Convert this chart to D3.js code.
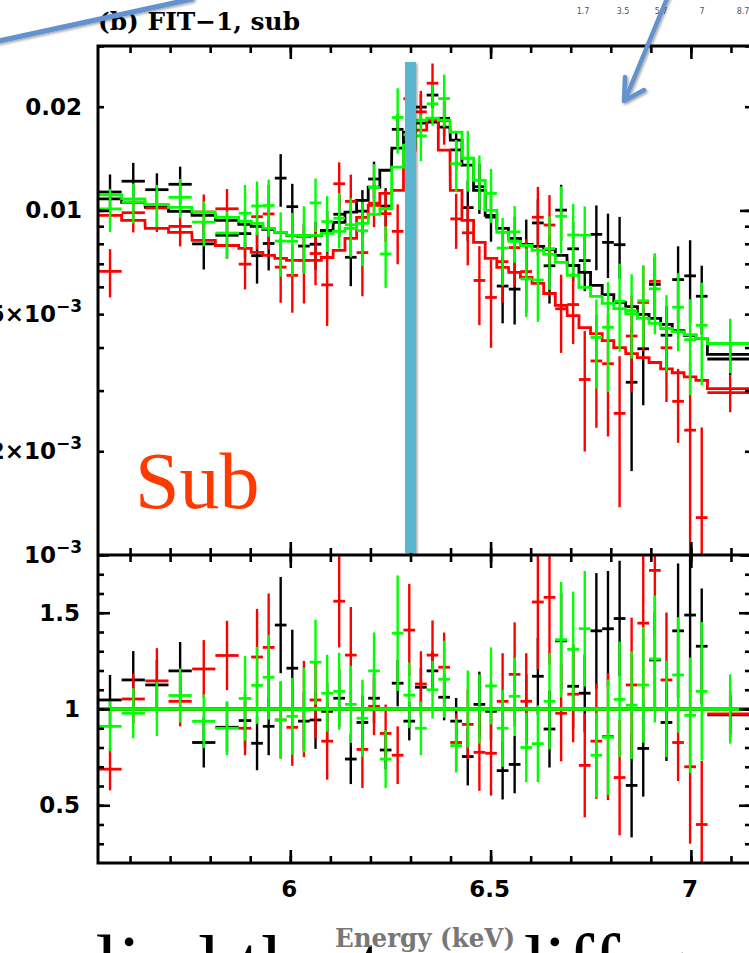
<!DOCTYPE html>
<html>
<head>
<meta charset="utf-8">
<script src="https://cdn.jsdelivr.net/npm/d3@7"></script>
<style>
html, body { margin: 0; padding: 0; background: #fff; }
svg { display: block; }
</style>
</head>
<body>
<div id="viz"></div>
<script>
// shared energy bins (keV): centres and half widths
const binE = [5.550, 5.608, 5.667, 5.725, 5.784, 5.842, 5.887,
  5.917, 5.946, 5.976, 6.005, 6.034, 6.063, 6.092, 6.122, 6.151, 6.180,
  6.209, 6.238, 6.268, 6.297, 6.326, 6.355, 6.384, 6.414, 6.443, 6.472,
  6.501, 6.530, 6.560, 6.589, 6.618, 6.647, 6.676, 6.706, 6.735, 6.764,
  6.793, 6.822, 6.852, 6.881, 6.910, 6.939, 6.968, 6.998, 7.027, 7.098];
const binW = [0.029, 0.029, 0.029, 0.029, 0.029, 0.029, 0.0157,
  0.0146, 0.0146, 0.0146, 0.0146, 0.0146, 0.0146, 0.0146, 0.0146, 0.0146, 0.0146,
  0.0146, 0.0146, 0.0146, 0.0146, 0.0146, 0.0146, 0.0146, 0.0146, 0.0146, 0.0146,
  0.0146, 0.0146, 0.0146, 0.0146, 0.0146, 0.0146, 0.0146, 0.0146, 0.0146, 0.0146,
  0.0146, 0.0146, 0.0146, 0.0146, 0.0146, 0.0146, 0.0146, 0.0146, 0.0146, 0.057];

// folded model (counts/s/keV), one step per bin
const modelBlack = [0.0108, 0.01056, 0.01021, 0.00994, 0.00968, 0.00936, 0.00911,
  0.00899, 0.00881, 0.00864, 0.00846, 0.00841, 0.00846, 0.00875, 0.00923, 0.00988, 0.0107, 0.01168, 0.01308,
  0.01516, 0.01687, 0.01792, 0.01804, 0.01744, 0.01599, 0.01353, 0.01144, 0.00968, 0.00887, 0.0083, 0.00797,
  0.00786, 0.00771, 0.0074, 0.00692, 0.00661, 0.00606, 0.0057, 0.00541, 0.00526, 0.00499, 0.00486, 0.00467,
  0.00448, 0.00434, 0.00425, 0.00382];
const modelRed = [0.00968, 0.00936, 0.00887, 0.00864, 0.00819, 0.00791, 0.00776,
  0.00755, 0.0074, 0.00726, 0.00716, 0.00716, 0.00716, 0.0073, 0.00766, 0.0083, 0.00955, 0.01035, 0.01121,
  0.01144, 0.01496, 0.0171, 0.01828, 0.01496, 0.01144, 0.00936, 0.00808, 0.00726, 0.00683, 0.00661, 0.00639,
  0.00614, 0.00574, 0.0053, 0.00495, 0.00457, 0.00439, 0.00419, 0.004, 0.00384, 0.00374, 0.00362, 0.00347,
  0.00338, 0.00329, 0.00321, 0.00304];
const modelGreen = [0.0111, 0.0108, 0.0104, 0.0102, 0.00988, 0.00955, 0.0093,
  0.00917, 0.00887, 0.00864, 0.00846, 0.00846, 0.00846, 0.00858, 0.00869, 0.00887, 0.00917, 0.00974, 0.0101,
  0.01335, 0.01547, 0.01828, 0.01853, 0.01828, 0.01687, 0.01417, 0.01223, 0.0100, 0.00864, 0.00813, 0.00791,
  0.00766, 0.00745, 0.00707, 0.00648, 0.00598, 0.00563, 0.00537, 0.00519, 0.00502, 0.00486, 0.0047, 0.00454,
  0.00445, 0.00436, 0.00425, 0.00411];

// data / model ratio and its 1-sigma error
const ratioBlack = [1.047, 1.151, 1.125, 1.198, 0.826, 0.905, 0.94,
  0.822, 0.91, 1.436, 1.212, 0.937, 0.943, 0.988, 1.056, 0.74, 0.93, 1.056, 0.787,
  1.134, 0.937, 1.113, 1.198, 1.061, 0.937, 0.753, 1.024, 0.988, 0.68, 0.712, 1.0,
  1.17, 0.896, 1.354, 1.118, 1.082, 1.406, 1.417, 1.47, 0.603, 0.795, 1.255, 0.93,
  1.406, 1.488, 1.326, 0.97];
const errBlack = [0.13, 0.15, 0.13, 0.15, 0.13, 0.13, 0.14,
  0.14, 0.15, 0.25, 0.2, 0.15, 0.15, 0.15, 0.15, 0.13, 0.14, 0.13, 0.1,
  0.12, 0.1, 0.1, 0.1, 0.12, 0.12, 0.15, 0.17, 0.15, 0.15, 0.15, 0.18,
  0.2, 0.2, 0.25, 0.22, 0.2, 0.3, 0.3, 0.3, 0.27, 0.25, 0.25, 0.2,
  0.35, 0.4, 0.3, 0.1];
const ratioRed = [0.6875, 1.052, 1.146, 1.04, 1.208, 1.278, 0.9,
  1.27, 1.32, 0.943, 0.905, 1.0, 1.047, 0.833, 1.56, 1.28, 0.79, 1.014, 0.873,
  0.76, 1.41, 1.13, 1.28, 1.217, 0.826, 0.92, 0.775, 0.77, 1.04, 1.18, 1.04,
  1.556, 1.58, 0.978, 1.077, 0.707, 0.833, 0.857, 0.644, 1.125, 1.446, 1.72, 1.151,
  0.826, 0.7, 0.4, 0.974];
const errRed = [0.11, 0.13, 0.17, 0.13, 0.15, 0.18, 0.14,
  0.25, 0.28, 0.2, 0.2, 0.25, 0.2, 0.2, 0.24, 0.25, 0.2, 0.15, 0.15,
  0.15, 0.24, 0.17, 0.18, 0.18, 0.15, 0.18, 0.2, 0.22, 0.25, 0.27, 0.25,
  0.35, 0.35, 0.25, 0.25, 0.27, 0.3, 0.33, 0.3, 0.35, 0.4, 0.35, 0.35,
  0.2, 0.4, 0.33, 0.12];
const ratioGreen = [0.91, 0.978, 1.0, 1.07, 0.936, 0.9, 1.055,
  1.123, 1.165, 0.943, 0.962, 0.995, 1.243, 1.082, 1.092, 1.024, 0.952, 1.198, 0.74,
  1.394, 1.072, 0.9, 1.1, 1.155, 0.81, 1.0, 1.0, 1.12, 0.9, 1.066, 0.8,
  0.82, 1.04, 1.36, 1.31, 1.417, 0.76, 0.853, 1.05, 1.02, 1.125, 1.26, 1.0,
  1.177, 0.967, 1.092, 1.0];
const errGreen = [0.13, 0.13, 0.14, 0.14, 0.14, 0.14, 0.22,
  0.2, 0.22, 0.2, 0.2, 0.22, 0.22, 0.2, 0.2, 0.2, 0.2, 0.2, 0.15,
  0.3, 0.17, 0.14, 0.15, 0.2, 0.14, 0.2, 0.18, 0.2, 0.2, 0.2, 0.18,
  0.2, 0.25, 0.3, 0.3, 0.3, 0.22, 0.3, 0.3, 0.28, 0.3, 0.33, 0.25,
  0.3, 0.3, 0.36, 0.18];

const xTicks = [6, 6.5, 7];
const xLabels = ["6", "6.5", "7"];
const yTopTicks = [0.02, 0.01, 0.005, 0.002, 0.001];
const yTopLabels = [["0.02", ""], ["0.01", ""], ["5\u00d710", "\u22123"], ["2\u00d710", "\u22123"], ["10", "\u22123"]];
const yBotTicks = [1.5, 1, 0.5];
const yBotLabels = ["1.5", "1", "0.5"];
const lineE = 6.30;
const sideNums = ["1.7", "3.5", "5.7", "7", "8.7"];

const width = 749, height = 953;
const pL = 98, pR = 751, pT = 46, pM = 555, pB = 863;

const x = d3.scaleLinear().domain([5.52, 7.15]).range([pL, pR]);
const yTop = d3.scaleLog().domain([1e-3, 0.03]).range([pM, pT]);
const yBot = d3.scaleLinear().domain([0.2, 1.8]).range([pB, pM]);

const sets = [
  {color: "#000000", model: modelBlack, ratio: ratioBlack, err: errBlack},
  {color: "#ff0000", model: modelRed, ratio: ratioRed, err: errRed},
  {color: "#00ff00", model: modelGreen, ratio: ratioGreen, err: errGreen}
];

const svg = d3.select("#viz").append("svg")
  .attr("width", width).attr("height", height)
  .attr("viewBox", [0, 0, width, height]);

const defs = svg.append("defs");
defs.append("clipPath").attr("id", "clipTop").append("rect")
  .attr("x", pL).attr("y", pT).attr("width", pR - pL).attr("height", pM - pT);
defs.append("clipPath").attr("id", "clipBot").append("rect")
  .attr("x", pL).attr("y", pM).attr("width", pR - pL).attr("height", pB - pM);
const shadow = defs.append("filter").attr("id", "shadow").attr("x", "-20%").attr("y", "-20%")
  .attr("width", "140%").attr("height", "140%");
shadow.append("feDropShadow").attr("dx", 1.5).attr("dy", 1.5).attr("stdDeviation", 1.2)
  .attr("flood-color", "#000").attr("flood-opacity", 0.35);

// slide text below the figure, mostly cut off by the crop
svg.append("text").attr("x", -23).attr("y", 992)
  .attr("font-family", "Liberation Serif").attr("font-size", 82).attr("fill", "#000")
  .text("applied the two different models");

const gTop = svg.append("g").attr("clip-path", "url(#clipTop)");
const gBot = svg.append("g").attr("clip-path", "url(#clipBot)");

const stepLine = d3.line().x(d => x(d[0])).y(d => d[1]);

sets.forEach(s => {
  const pts = binE.map((e, i) => {
    const m = s.model[i];
    const v = s.ratio[i] * m, er = s.err[i] * m;
    return {e, w: binW[i], m, v, lo: Math.max(v - er, 1e-5), hi: v + er, r: s.ratio[i], re: s.err[i]};
  });

  // top panel: data crosses
  const c = gTop.append("g").attr("stroke", s.color).attr("fill", "none");
  c.selectAll(".h").data(pts).join("line")
    .attr("x1", d => x(d.e - d.w)).attr("x2", d => x(d.e + d.w))
    .attr("y1", d => yTop(d.v)).attr("y2", d => yTop(d.v))
    .attr("stroke-width", 2.8);
  c.selectAll(".v").data(pts).join("line")
    .attr("x1", d => x(d.e)).attr("x2", d => x(d.e))
    .attr("y1", d => yTop(d.lo)).attr("y2", d => yTop(d.hi))
    .attr("stroke-width", 2.4);

  // top panel: model step
  const steps = [];
  pts.forEach(d => { steps.push([d.e - d.w, yTop(d.m)]); steps.push([d.e + d.w, yTop(d.m)]); });
  gTop.append("path").attr("d", stepLine(steps))
    .attr("fill", "none").attr("stroke", s.color).attr("stroke-width", 2.8);

  // bottom panel: ratio crosses
  const b = gBot.append("g").attr("stroke", s.color).attr("fill", "none");
  b.selectAll(".h").data(pts).join("line")
    .attr("x1", d => x(d.e - d.w)).attr("x2", d => x(d.e + d.w))
    .attr("y1", d => yBot(d.r)).attr("y2", d => yBot(d.r))
    .attr("stroke-width", 2.8);
  b.selectAll(".v").data(pts).join("line")
    .attr("x1", d => x(d.e)).attr("x2", d => x(d.e))
    .attr("y1", d => yBot(d.r - d.re)).attr("y2", d => yBot(d.r + d.re))
    .attr("stroke-width", 2.4);
  gBot.append("line")
    .attr("x1", x(binE[0] - binW[0])).attr("x2", x(binE[binE.length - 1] + binW[binW.length - 1]))
    .attr("y1", yBot(1)).attr("y2", yBot(1))
    .attr("stroke", s.color).attr("stroke-width", 3.6);
});

// axes: all ticks point inwards
const minorX = d3.range(5.6, 7.15, 0.1);
const logTicks = [0.001, 0.002, 0.003, 0.004, 0.005, 0.006, 0.007, 0.008, 0.009, 0.01, 0.02, 0.03];
const minorBot = d3.range(0.3, 1.75, 0.1);

function styleAxis(g) {
  g.select(".domain").remove();
  g.selectAll(".tick line").attr("stroke", "#000").attr("stroke-width", 2.6);
  g.selectAll(".tick text").remove();
}
function axis(gen, tr) {
  svg.append("g").attr("transform", tr).call(gen).call(styleAxis);
}
[[pT, d3.axisTop], [pM, d3.axisBottom], [pM, d3.axisTop], [pB, d3.axisBottom]].forEach(([yy, f]) => {
  axis(f(x).tickValues(minorX).tickSize(-7).tickSizeOuter(0), `translate(0,${yy})`);
  axis(f(x).tickValues(xTicks).tickSize(-13).tickSizeOuter(0), `translate(0,${yy})`);
});
[[pL, d3.axisLeft], [pR, d3.axisRight]].forEach(([xx, f]) => {
  axis(f(yTop).tickValues(logTicks).tickSize(-6).tickSizeOuter(0), `translate(${xx},0)`);
  axis(f(yTop).tickValues([0.001, 0.01]).tickSize(-11).tickSizeOuter(0), `translate(${xx},0)`);
  axis(f(yBot).tickValues(minorBot).tickSize(-6).tickSizeOuter(0), `translate(${xx},0)`);
  axis(f(yBot).tickValues([0.5, 1, 1.5]).tickSize(-12).tickSizeOuter(0), `translate(${xx},0)`);
});

// frame
const frame = svg.append("g").attr("stroke", "#000").attr("stroke-width", 3).attr("fill", "none");
frame.append("rect").attr("x", pL).attr("y", pT).attr("width", pR - pL).attr("height", pB - pT);
frame.append("line").attr("x1", pL).attr("x2", pR).attr("y1", pM).attr("y2", pM);

// tick labels
const lab = svg.append("g").attr("font-family", "DejaVu Sans").attr("font-weight", "bold")
  .attr("font-size", 23).attr("fill", "#000");
yTopTicks.forEach((t, i) => {
  const tx = lab.append("text").attr("x", 82).attr("y", yTop(t) + 8).attr("text-anchor", "end");
  tx.append("tspan").text(yTopLabels[i][0]);
  if (yTopLabels[i][1]) tx.append("tspan").attr("font-size", 17).attr("dy", -10).text(yTopLabels[i][1]);
});
yBotTicks.forEach((t, i) => {
  lab.append("text").attr("x", 80).attr("y", yBot(t) + 8).attr("text-anchor", "end").text(yBotLabels[i]);
});
xTicks.forEach((t, i) => {
  lab.append("text").attr("x", x(t) - 1).attr("y", 897).attr("text-anchor", "middle").text(xLabels[i]);
});

// title and axis name
svg.append("text").attr("x", 98).attr("y", 30)
  .attr("font-family", "DejaVu Serif").attr("font-weight", "bold").attr("font-size", 25)
  .attr("textLength", 202).attr("lengthAdjust", "spacingAndGlyphs")
  .text("(b) FIT\u22121, sub");
svg.append("text").attr("x", 425).attr("y", 947).attr("text-anchor", "middle")
  .attr("font-family", "DejaVu Serif").attr("font-weight", "bold").attr("font-size", 26)
  .attr("textLength", 180).attr("lengthAdjust", "spacingAndGlyphs").attr("fill", "#777")
  .text("Energy (keV)");

// Fe line marker
svg.append("rect").attr("x", x(lineE) - 5.5).attr("y", 62).attr("width", 11).attr("height", pM - 2 - 62)
  .attr("fill", "#5ab5cf").attr("filter", "url(#shadow)");

svg.append("text").attr("x", 135).attr("y", 508)
  .attr("font-family", "Liberation Serif").attr("font-size", 80).attr("fill", "#ff3a00")
  .text("Sub");

// small numbers from the neighbouring panel
const sideX = [583, 623, 661, 702, 743];
sideNums.forEach((t, i) => {
  svg.append("text").attr("x", sideX[i]).attr("y", 14).attr("text-anchor", "middle")
    .attr("font-family", "DejaVu Sans").attr("font-size", 8).attr("fill", "#555").text(t);
});

// slide arrows
const arrows = svg.append("g").attr("stroke", "#6393cf").attr("fill", "none")
  .attr("stroke-linecap", "round").attr("stroke-linejoin", "round").attr("filter", "url(#shadow)");
arrows.append("line").attr("x1", -6).attr("y1", 42).attr("x2", 192).attr("y2", -1).attr("stroke-width", 5);
arrows.append("line").attr("x1", 668).attr("y1", -4).attr("x2", 625).attr("y2", 100).attr("stroke-width", 4.5);
arrows.append("path").attr("d", "M625,77 L624,101 L644,90").attr("stroke-width", 4.5);
</script>
</body>
</html>
